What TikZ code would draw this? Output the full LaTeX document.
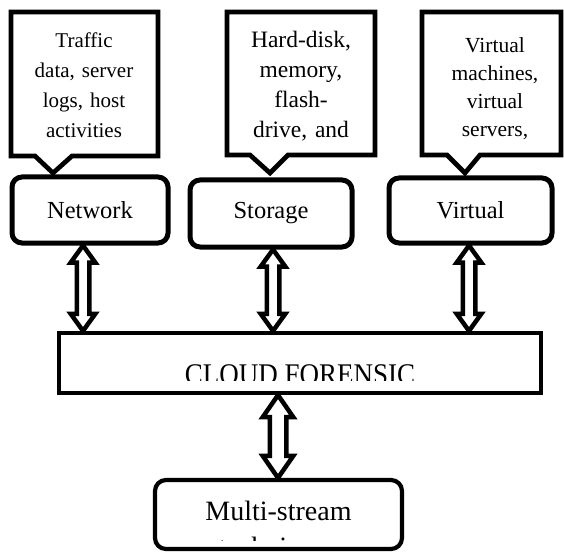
\documentclass[tikz,border=0pt]{standalone}
\usepackage{fontspec}
\setmainfont{Liberation Serif}
\usetikzlibrary{calc}
\newcommand\twoway[6]{%
  \draw[dbl] let \p1=(#2.south), \p2=(#3.north) in
    (#1,\y1) -- ++(#5,#6) -- ++({#4-#5},0) -- ($(#1,\y2)+(#4,-#6)$)
    -- ++({#5-#4},0) -- (#1,\y2) -- ++(-#5,-#6) -- ++({#5-#4},0)
    -- ($(#1,\y1)+(-#4,#6)$) -- ++({#4-#5},0) -- cycle;}
\begin{document}
\begin{tikzpicture}[x=1pt,y=-1pt,
  callout/.style={draw, line width=4.7pt, line join=miter},
  ctext/.style={anchor=base, text width=140pt, align=center, inner sep=0pt},
  rbox/.style={draw, line width=5pt, rounded corners=10pt, inner sep=0pt,
    font=\fontsize{24.5}{28}\selectfont},
  dbl/.style={line width=4.5pt, line join=miter}]
\useasboundingbox (0,0) rectangle (564,553);

% callouts
\draw[callout] (11,12) -- (158,12) -- (158,156) -- (72,156) -- (53,173) -- (35,156) -- (11,156) -- cycle;
\draw[callout] (227,12) -- (375,12) -- (375,155) -- (288,155) -- (270,173) -- (250,155) -- (227,155) -- cycle;
\draw[callout] (422,12) -- (561,12) -- (561,155) -- (480,155) -- (465,173) -- (447,155) -- (422,155) -- cycle;
\node[ctext, font=\fontsize{21}{30}\selectfont] (t1) at (84,48) {Traffic\\data, server\\logs, host\\activities};
\node[ctext, font=\fontsize{23.5}{30}\selectfont] (t2) at (301,48) {Hard-disk,\\memory,\\flash-\\drive, and};
\node[ctext, font=\fontsize{21.5}{28}\selectfont] (t3) at (495,53) {Virtual\\machines,\\virtual\\servers,};

% category boxes
\node[rbox, minimum width=156pt, minimum height=66pt] (net) at (90,210) {Network};
\node[rbox, minimum width=162pt, minimum height=67pt] (sto) at (271,213.5) {Storage};
\node[rbox, minimum width=163pt, minimum height=65pt] (vir) at (470.5,210.5) {Virtual};

% central box
\node[draw, line width=4.2pt, minimum width=482pt, minimum height=60pt, inner sep=0pt] (cloud) at (300,363) {};
\begin{scope}
  \clip (62,336) rectangle (538,380);
  \node[anchor=base, inner sep=0pt, xscale=0.9, font=\fontsize{30}{34}\selectfont] (cloudtext) at (300,384) {CLOUD FORENSIC};
\end{scope}

% bottom box
\node[draw, line width=4.2pt, rounded corners=11pt, minimum width=247pt, minimum height=69pt, inner sep=0pt] (multi) at (278.5,514.5) {};
\node[anchor=base, inner sep=0pt, font=\fontsize{28}{34}\selectfont] (multitext) at (278.5,520) {Multi-stream};
\begin{scope}
  \clip (158,483) rectangle (400,540.5);
  \node[anchor=base, inner sep=0pt, font=\fontsize{28}{34}\selectfont] (multitext2) at (278.5,556) {techniques};
\end{scope}

% double arrows
\twoway{83}{net}{cloud}{6.25}{12.25}{17}
\twoway{273}{sto}{cloud}{6.25}{12.25}{17}
\twoway{469}{vir}{cloud}{6.25}{12.25}{17}
\twoway{278}{cloud}{multi}{8.25}{15.25}{22}
\end{tikzpicture}
\end{document}
